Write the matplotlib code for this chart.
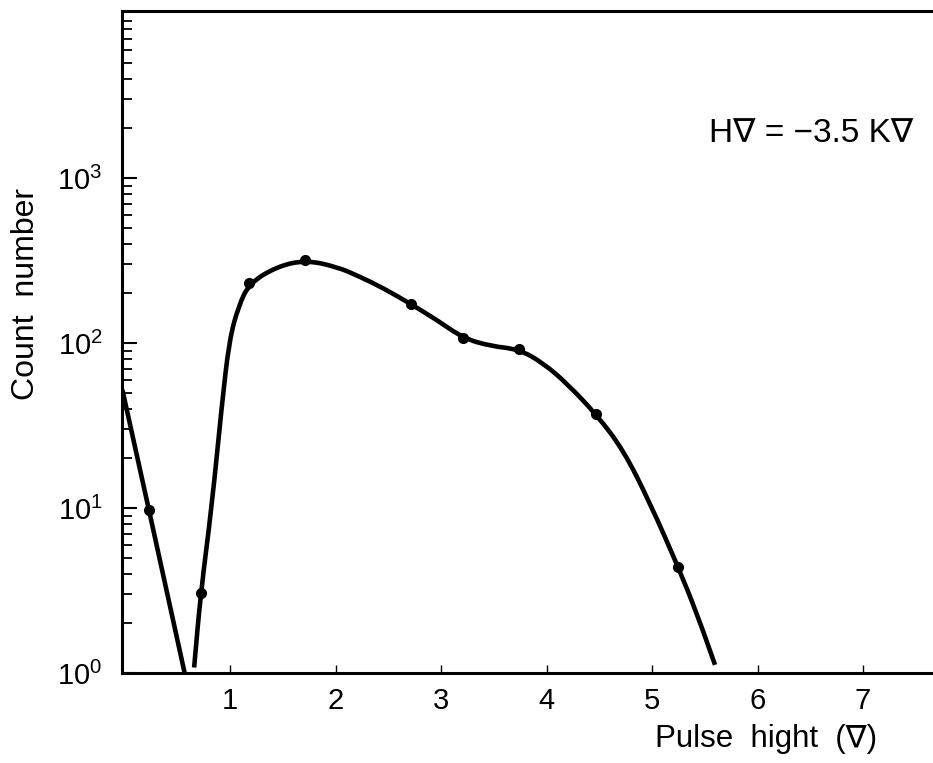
import matplotlib
matplotlib.use("Agg")
import matplotlib.pyplot as plt
from matplotlib.path import Path
from matplotlib.patches import PathPatch
from matplotlib.transforms import IdentityTransform
from matplotlib.ticker import FixedLocator, FixedFormatter, LogLocator, NullFormatter

# ---- data ----
# left branch of the hand-drawn curve
curve_a_x = [-0.02, 0.232, 0.57]
curve_a_y = [52, 9.7, 1.0]
# main branch of the hand-drawn curve
curve_b_x = [0.66, 0.722, 0.827, 0.921, 0.993, 1.079, 1.183, 1.443, 1.711, 2.011,
             2.232, 2.453, 2.716, 2.959, 3.212, 3.464, 3.739, 3.970, 4.191, 4.469,
             4.728, 4.981, 5.249, 5.424, 5.597]
curve_b_y = [1.08, 3.04, 10.2, 41.1, 104, 166, 230, 290, 318, 290,
             252, 215, 172, 138, 107, 95.9, 91.6, 75.4, 57.0, 37.1,
             22.5, 10.7, 4.37, 2.30, 1.12]
# measured points
pts_x = [0.232, 0.722, 1.183, 1.711, 2.716, 3.212, 3.739, 4.469, 5.249]
pts_y = [9.7, 3.04, 230, 318, 172, 107, 91.6, 37.1, 4.37]

x_ticks = [1, 2, 3, 4, 5, 6, 7]
x_tick_labels = ["1", "2", "3", "4", "5", "6", "7"]
y_ticks = [1, 10, 100, 1000]
y_tick_labels = [r"$\mathregular{10^{0}}$", r"$\mathregular{10^{1}}$",
                 r"$\mathregular{10^{2}}$", r"$\mathregular{10^{3}}$"]

plt.rcParams['font.family'] = ['Liberation Sans', 'DejaVu Sans']
plt.rcParams['mathtext.fontset'] = 'custom'
plt.rcParams['mathtext.rm'] = 'Liberation Sans'
plt.rcParams['mathtext.it'] = 'Liberation Sans'

fig = plt.figure(figsize=(9.33, 7.63), dpi=100)
ax = fig.add_axes([122 / 933, 1 - 673 / 763, 1 - 122 / 933, (673 - 11) / 763])

ax.set_yscale('log')
ax.set_xlim(-0.0237, 7.663)
ax.set_ylim(1, 10 ** ((673 - 11) / 165))

lw = 3.3
ax.plot(curve_a_x, curve_a_y, color='black', lw=lw, solid_joinstyle='round',
        solid_capstyle='butt')


def smooth_path(xs, ys):
    """Quadratic-Bezier rendering of a traced polyline in display space."""
    pts = ax.transData.transform(list(zip(xs, ys)))
    verts = [pts[0], (pts[0] + pts[1]) / 2]
    codes = [Path.MOVETO, Path.LINETO]
    for i in range(1, len(pts) - 1):
        verts += [pts[i], (pts[i] + pts[i + 1]) / 2]
        codes += [Path.CURVE3, Path.CURVE3]
    verts.append(pts[-1])
    codes.append(Path.LINETO)
    return Path(verts, codes)


fig.canvas.draw()
patch = PathPatch(smooth_path(curve_b_x, curve_b_y), facecolor='none',
                  edgecolor='black', lw=lw, joinstyle='round', capstyle='butt',
                  transform=IdentityTransform())
patch.set_clip_path(ax.patch)
ax.add_artist(patch)

ax.plot(pts_x, pts_y, 'o', color='black', markersize=7, zorder=3)

ax.xaxis.set_major_locator(FixedLocator(x_ticks))
ax.xaxis.set_major_formatter(FixedFormatter(x_tick_labels))
ax.yaxis.set_major_locator(FixedLocator(y_ticks))
ax.yaxis.set_major_formatter(FixedFormatter(y_tick_labels))
ax.yaxis.set_minor_locator(LogLocator(base=10, subs=range(2, 10), numticks=20))
ax.yaxis.set_minor_formatter(NullFormatter())

ax.tick_params(axis='x', direction='in', length=6, width=1, pad=10,
               labelsize=21, top=False)
ax.tick_params(axis='y', which='major', direction='in', length=11, width=1.5,
               pad=14, labelsize=21, right=False)
ax.tick_params(axis='y', which='minor', direction='in', length=7, width=1.3,
               right=False)

for s in ['left', 'bottom', 'top']:
    ax.spines[s].set_linewidth(2.2)
ax.spines['right'].set_visible(False)

fig.text(26 / 933, 1 - 294 / 763, "Count  number", rotation=90,
         ha='center', va='center', fontsize=23)
fig.text(766 / 933, 1 - 739 / 763, "Pulse  hight  (\u2207)",
         ha='center', va='center', fontsize=22.5)
fig.text(811 / 933, 1 - 134 / 763, "H\u2207 = \u22123.5 K\u2207",
         ha='center', va='center', fontsize=24)

fig.savefig("out.png", dpi=100)
